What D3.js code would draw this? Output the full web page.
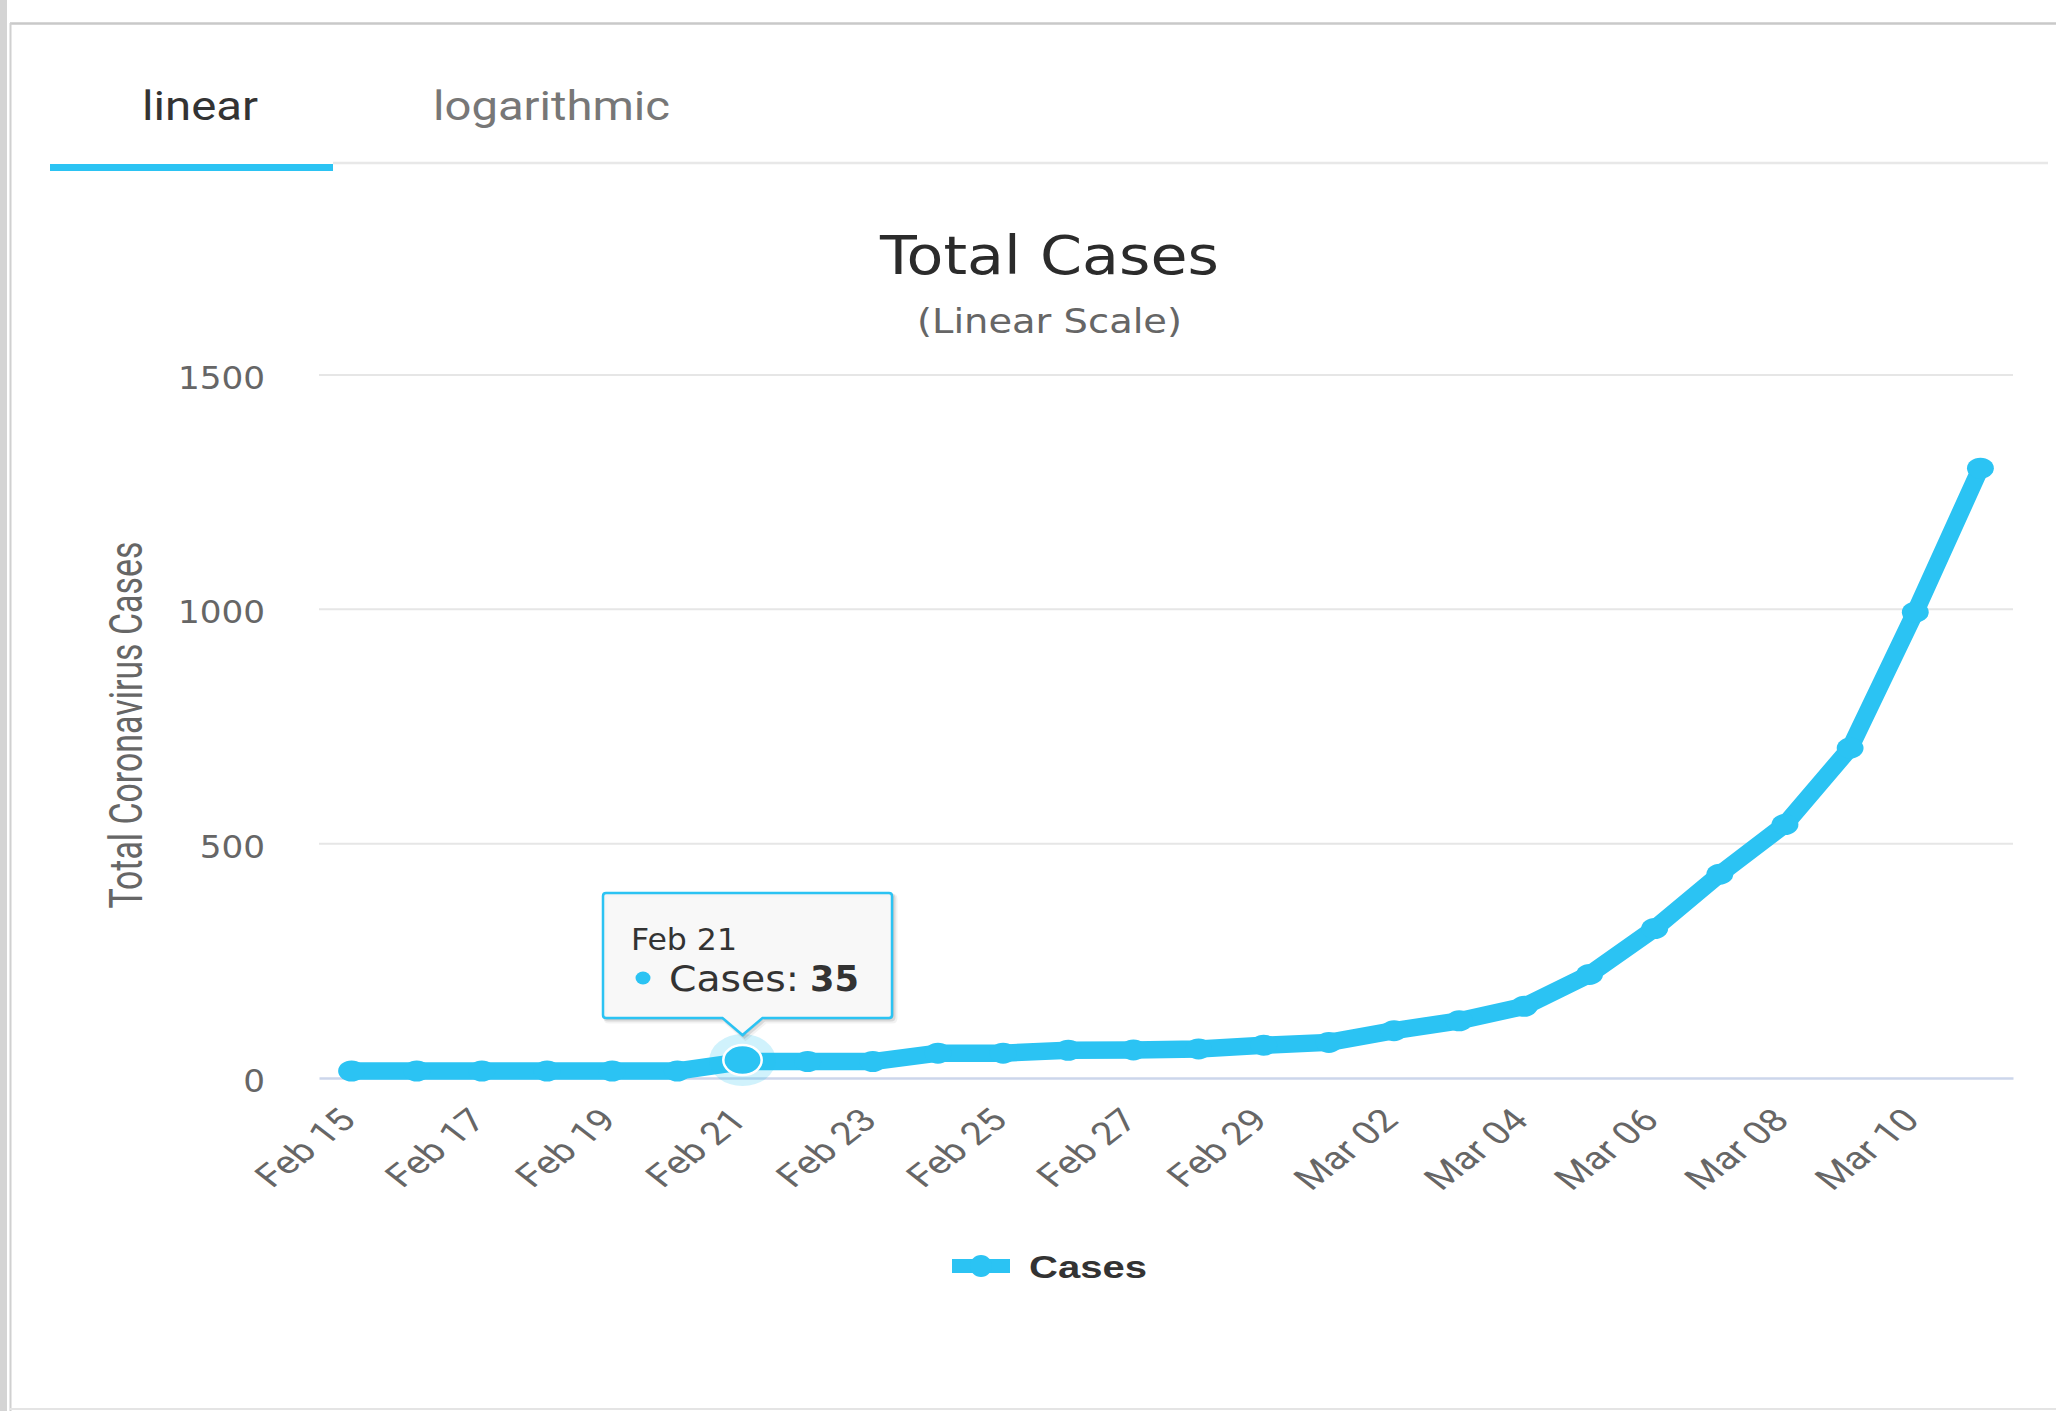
<!DOCTYPE html>
<html><head><meta charset="utf-8">
<script src="https://cdn.jsdelivr.net/npm/d3@7"></script>
<style>html,body{margin:0;padding:0;background:#fff;overflow:hidden}</style>
</head><body>
<svg id="c" width="2056" height="1411"></svg>
<script>
// ---------- data ----------
const categories = ["Feb 15","Feb 16","Feb 17","Feb 18","Feb 19","Feb 20","Feb 21","Feb 22","Feb 23","Feb 24","Feb 25","Feb 26","Feb 27","Feb 28","Feb 29","Mar 01","Mar 02","Mar 03","Mar 04","Mar 05","Mar 06","Mar 07","Mar 08","Mar 09","Mar 10","Mar 11"];
const cases = [15,15,15,15,15,15,35,35,35,53,53,59,60,62,70,76,101,122,153,221,319,435,541,704,994,1301];
const yTicks = [0,500,1000,1500];
const xTickLabels = ["Feb 15","Feb 17","Feb 19","Feb 21","Feb 23","Feb 25","Feb 27","Feb 29","Mar 02","Mar 04","Mar 06","Mar 08","Mar 10"];
const tabLabels = ["linear","logarithmic"];
const titleText = "Total Cases";
const subtitleText = "(Linear Scale)";
const yAxisTitle = "Total Coronavirus Cases";
const seriesName = "Cases";
const hoverIndex = 6;

// ---------- setup ----------
const W = 2056, H = 1411, SX = 1.28;
const CYAN = "#2bc3f3";
const svg = d3.select("#c");

function txt(parent, s, x, y, size, family, weight, fill, len) {
  const t = parent.append("text").attr("x", x).attr("y", y)
    .attr("font-size", size).attr("font-family", family)
    .attr("font-weight", weight).attr("fill", fill).text(s);
  if (len) t.attr("textLength", len).attr("lengthAdjust", "spacingAndGlyphs");
  return t;
}

// frame
svg.append("rect").attr("width", W).attr("height", H).attr("fill", "#fff");
svg.append("rect").attr("x", 0).attr("y", 0).attr("width", 7).attr("height", H).attr("fill", "#d4d4d4");
svg.append("line").attr("x1", 10).attr("x2", W).attr("y1", 23.5).attr("y2", 23.5).attr("stroke", "#c9c9c9").attr("stroke-width", 2.5);
svg.append("line").attr("x1", 10.5).attr("x2", 10.5).attr("y1", 23).attr("y2", H).attr("stroke", "#d0d0d0").attr("stroke-width", 2);
svg.append("line").attr("x1", 10).attr("x2", W).attr("y1", 1409).attr("y2", 1409).attr("stroke", "#e4e4e4").attr("stroke-width", 2);

// tabs
svg.append("line").attr("x1", 333).attr("x2", 2048).attr("y1", 163).attr("y2", 163).attr("stroke", "#e8e8e8").attr("stroke-width", 2.5);
svg.append("rect").attr("x", 50).attr("y", 164).attr("width", 283).attr("height", 7).attr("fill", CYAN);
txt(svg, tabLabels[0], 142, 120, 41, "Roboto", 400, "#333", 116);
txt(svg, tabLabels[1], 433, 120, 41, "Roboto", 400, "#777", 237);

// titles
txt(svg, titleText, 880, 274, 54, "DejaVu Sans", 400, "#2b2b2b", 339);
txt(svg, subtitleText, 917, 333, 33.5, "DejaVu Sans", 400, "#666", 265);

// scales
const plotL = 319, plotR = 2013, plotB = 1078, plotT = 375;
const x = d3.scaleBand().domain(categories).range([plotL, plotR]).padding(0);
const y = d3.scaleLinear().domain([0, 1500]).range([plotB, plotT]);
const cx = d => x(d) + x.bandwidth() / 2;

// grid
svg.append("g").selectAll("line").data(yTicks.filter(t => t > 0)).join("line")
  .attr("x1", plotL).attr("x2", plotR).attr("y1", d => y(d)).attr("y2", d => y(d))
  .attr("stroke", "#e6e6e6").attr("stroke-width", 2);

// y axis
const gy = svg.append("g").attr("transform", `translate(${plotL},0)`)
  .call(d3.axisLeft(y).tickValues(yTicks).tickSize(0).tickPadding(54).tickFormat(d3.format("d")));
gy.select(".domain").remove();
gy.selectAll("text").attr("font-family", "DejaVu Sans").attr("font-size", 32)
  .attr("fill", "#666").attr("dy", "0.42em")
  .each(function () { d3.select(this).attr("textLength", this.getComputedTextLength() * 1.07).attr("lengthAdjust", "spacingAndGlyphs"); });

// y axis title
const gt = svg.append("g").attr("transform", "translate(141.6,908.6) rotate(-90)");
txt(gt, yAxisTitle, 0, 0, 46, "Roboto", 400, "#666", 367);

// x axis
const gx = svg.append("g").attr("transform", `translate(0,${plotB})`)
  .call(d3.axisBottom(x).tickValues(xTickLabels).tickSize(0).tickSizeOuter(0));
gx.select(".domain").attr("stroke", "#ccd6eb").attr("stroke-width", 2.5);
gx.selectAll("text").attr("x", 0).attr("y", 0).attr("dy", 0)
  .attr("text-anchor", "end").attr("font-family", "Roboto").attr("font-size", 31.5).attr("fill", "#666")
  .attr("transform", `translate(6,44) scale(${SX},1) rotate(-45)`);

// series
const pts = categories.map((c, i) => ({ c, v: cases[i] }));
svg.append("path").datum(pts)
  .attr("d", d3.line().x(d => cx(d.c)).y(d => y(d.v)))
  .attr("fill", "none").attr("stroke", CYAN).attr("stroke-width", 17.5)
  .attr("stroke-linejoin", "round").attr("stroke-linecap", "round");
svg.append("g").selectAll("ellipse").data(pts).join("ellipse")
  .attr("cx", d => cx(d.c)).attr("cy", d => y(d.v))
  .attr("rx", 10.5 * SX).attr("ry", 10.5).attr("fill", CYAN);

// hover state
const hp = pts[hoverIndex];
svg.append("ellipse").attr("cx", cx(hp.c)).attr("cy", y(hp.v) - 1.5)
  .attr("rx", 26 * SX).attr("ry", 26).attr("fill", CYAN).attr("opacity", 0.22);
svg.append("ellipse").attr("cx", cx(hp.c)).attr("cy", y(hp.v) - 1.5)
  .attr("rx", 15 * SX).attr("ry", 15).attr("fill", CYAN)
  .attr("stroke", "#fff").attr("stroke-width", 2.5);

// tooltip
const tipX = cx(hp.c);
const bx = 603, by = 893, bw = 289, bh = 125, r = 3, tipY = 1035, ph = 20;
const tipPath = `M${bx + r},${by} H${bx + bw - r} Q${bx + bw},${by} ${bx + bw},${by + r} V${by + bh - r} Q${bx + bw},${by + bh} ${bx + bw - r},${by + bh} H${tipX + ph} L${tipX},${tipY} L${tipX - ph},${by + bh} H${bx + r} Q${bx},${by + bh} ${bx},${by + bh - r} V${by + r} Q${bx},${by} ${bx + r},${by} Z`;
const tg = svg.append("g");
[[5, 0.05, 3], [3, 0.1, 2], [1, 0.15, 1]].forEach(([w, o, off]) => {
  tg.append("path").attr("d", tipPath).attr("fill", "none")
    .attr("stroke", "#000").attr("stroke-opacity", o).attr("stroke-width", w)
    .attr("transform", `translate(${off},${off})`);
});
tg.append("path").attr("d", tipPath).attr("fill", "rgba(247,247,247,0.9)")
  .attr("stroke", CYAN).attr("stroke-width", 2.5);
txt(tg, hp.c, 631, 950, 30, "DejaVu Sans", 400, "#333", 106);
tg.append("ellipse").attr("cx", 643).attr("cy", 978).attr("rx", 7.5).attr("ry", 6.5).attr("fill", CYAN);
txt(tg, seriesName + ":", 669, 991, 35, "DejaVu Sans", 400, "#333", 130);
txt(tg, String(hp.v), 810, 991, 35, "DejaVu Sans", 700, "#333", 49);

// legend
const lg = svg.append("g");
lg.append("line").attr("x1", 952).attr("x2", 1010).attr("y1", 1266).attr("y2", 1266)
  .attr("stroke", CYAN).attr("stroke-width", 14);
lg.append("circle").attr("cx", 981).attr("cy", 1266).attr("r", 11).attr("fill", CYAN);
txt(lg, seriesName, 1029, 1278, 32, "Liberation Sans", 700, "#333", 118);
</script>
</body></html>
